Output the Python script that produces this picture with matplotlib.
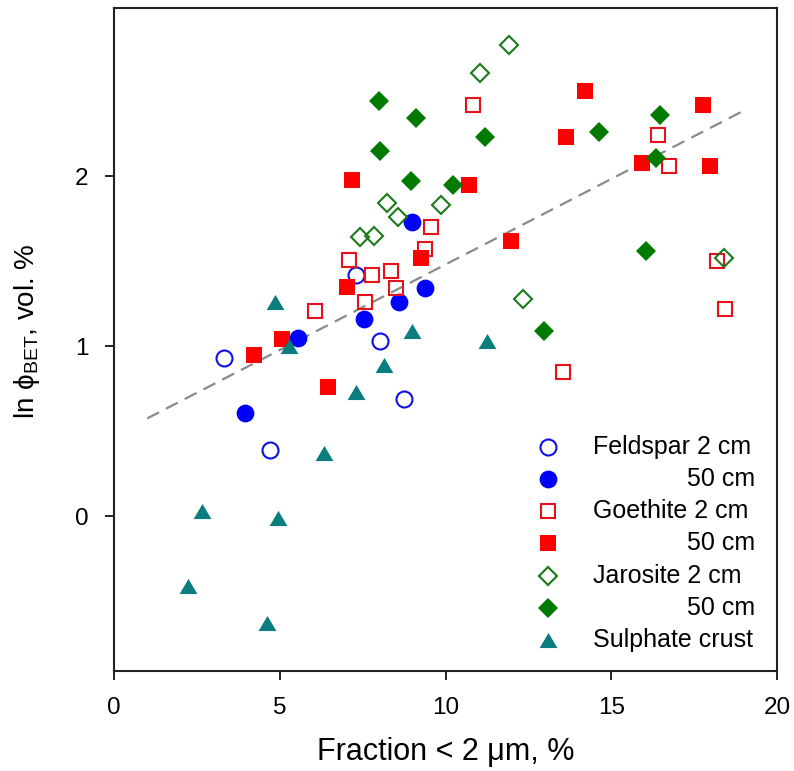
import numpy as np
import matplotlib
matplotlib.use("Agg")
import matplotlib.pyplot as plt

plt.rcParams['font.family'] = ['Liberation Sans', 'DejaVu Sans']
plt.rcParams['mathtext.fontset'] = 'custom'
plt.rcParams['mathtext.rm'] = 'Liberation Sans'
plt.rcParams['mathtext.it'] = 'Liberation Sans:italic'
plt.rcParams['mathtext.bf'] = 'Liberation Sans:bold'

# ---------------- data ----------------
feld2_x = [3.33, 4.71, 7.29, 8.03, 8.75]
feld2_y = [0.93, 0.39, 1.42, 1.03, 0.69]

feld50_x = [3.96, 5.54, 7.54, 8.61, 9.38, 9.00]
feld50_y = [0.61, 1.05, 1.16, 1.26, 1.34, 1.73]

goe2_x = [6.06, 7.10, 7.58, 7.77, 8.35, 8.51, 9.38, 9.55, 10.82, 16.40, 16.75, 18.20, 18.44, 13.54]
goe2_y = [1.21, 1.51, 1.26, 1.42, 1.44, 1.34, 1.57, 1.70, 2.42, 2.24, 2.06, 1.50, 1.22, 0.85]

goe50_x = [4.21, 5.06, 6.46, 7.04, 7.17, 9.26, 10.70, 11.98, 14.21, 13.64, 15.93, 17.76, 17.97]
goe50_y = [0.95, 1.04, 0.76, 1.35, 1.98, 1.52, 1.95, 1.62, 2.50, 2.23, 2.08, 2.42, 2.06]

jar2_x = [7.42, 7.84, 8.23, 8.58, 9.86, 11.04, 11.92, 12.35, 18.40]
jar2_y = [1.64, 1.65, 1.84, 1.76, 1.83, 2.61, 2.77, 1.28, 1.52]

jar50_x = [8.00, 9.11, 8.02, 8.95, 10.22, 11.19, 14.62, 16.47, 16.35, 16.05, 12.97]
jar50_y = [2.44, 2.34, 2.15, 1.97, 1.95, 2.23, 2.26, 2.36, 2.11, 1.56, 1.09]

sulph_x = [4.86, 5.28, 7.29, 8.14, 9.00, 11.26, 6.33, 2.65, 4.96, 2.22, 4.61]
sulph_y = [1.26, 1.00, 0.73, 0.89, 1.09, 1.03, 0.37, 0.03, -0.01, -0.41, -0.63]

fit_intercept = 0.475
fit_slope = 0.1006
fit_x_range = [1.0, 19.0]

legend_labels = ["Feldspar 2 cm", "50 cm", "Goethite 2 cm", "50 cm",
                 "Jarosite 2 cm", "50 cm", "Sulphate crust"]

x_ticks = [0, 5, 10, 15, 20]
y_ticks = [0, 1, 2]

# ---------------- styles ----------------
tri = [(-1, -0.85), (1, -0.85), (0, 0.85), (-1, -0.85)]
styles = [
    dict(marker='o', ms=11.5, mfc='none', mec='#1010e0', mew=1.5),
    dict(marker='o', ms=12.8, mfc='#0000ff', mec='#0000ff', mew=0),
    dict(marker='s', ms=9.6, mfc='none', mec='#e8101a', mew=1.5),
    dict(marker='s', ms=11.3, mfc='#ff0000', mec='#ff0000', mew=0),
    dict(marker='D', ms=9.3, mfc='none', mec='#1a7a1a', mew=1.5),
    dict(marker='D', ms=10.2, mfc='#007a00', mec='#007a00', mew=0),
    dict(marker=tri, ms=12.8, mfc='#0a7e7e', mec='#0a7e7e', mew=0),
]
series = [(feld2_x, feld2_y), (feld50_x, feld50_y), (goe2_x, goe2_y),
          (goe50_x, goe50_y), (jar2_x, jar2_y), (jar50_x, jar50_y),
          (sulph_x, sulph_y)]

fig = plt.figure(figsize=(7.94, 7.71), dpi=100)
ax = fig.add_axes([0.1436, 0.1297, 0.835, 0.86])

# regression line
fx = np.array(fit_x_range)
ax.plot(fx, fit_intercept + fit_slope * fx, color='#8a8a8a', lw=1.6,
        linestyle=(0, (6, 3.5)), zorder=1)

for (xs, ys), st in zip(series, styles):
    ax.plot(xs, ys, linestyle='none', zorder=3, **st)

ax.set_xlim(0, 20)
ax.set_ylim(-0.91, 2.99)
ax.set_xticks(x_ticks)
ax.set_yticks(y_ticks)
ax.tick_params(direction='out', length=6.5, width=1.4, labelsize=17.5,
               pad=12, color='#222222')
for sp in ax.spines.values():
    sp.set_linewidth(1.5)
    sp.set_color('#222222')

ax.set_xlabel("Fraction < 2 μm, %", fontsize=22)
ax.xaxis.set_label_coords(0.5, -0.1)
ax.set_ylabel(r"ln $\mathrm{\phi}_{\mathrm{BET}}$, vol. %", fontsize=20)
ax.yaxis.set_label_coords(-0.108, 0.512)

# manual legend (right-aligned "50 cm" rows as in the original)
row_y = np.linspace(0.3383, 0.0468, len(legend_labels))
for lab, st, yy in zip(legend_labels, styles, row_y):
    ax.plot([0.6546], [yy], transform=ax.transAxes, linestyle='none',
            clip_on=False, zorder=4, **st)
    if lab.startswith("50"):
        ax.text(0.967, yy, lab, transform=ax.transAxes, ha='right',
                va='center', fontsize=18)
    else:
        ax.text(0.7225, yy, lab, transform=ax.transAxes, ha='left',
                va='center', fontsize=18)

fig.savefig("out.png", dpi=100)
